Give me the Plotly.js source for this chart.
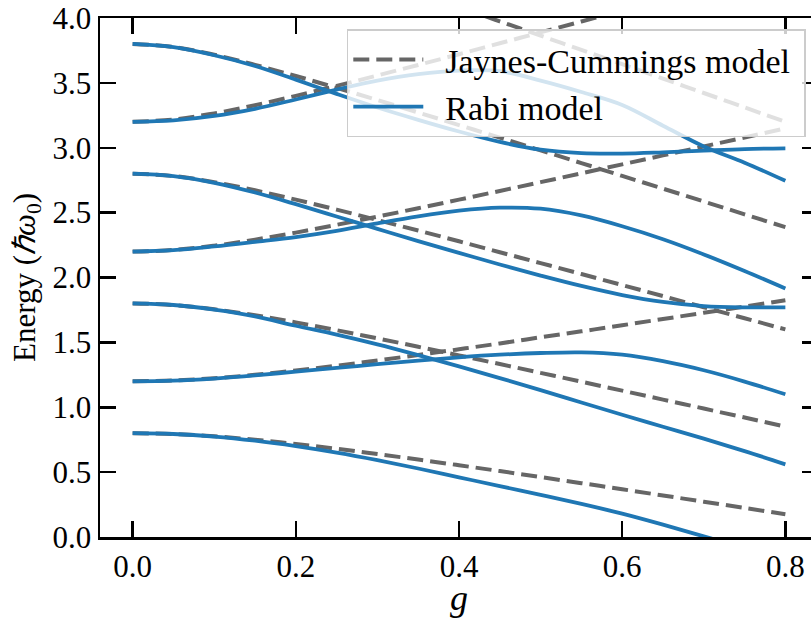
<!DOCTYPE html>
<html><head><meta charset="utf-8">
<script src="https://cdn.plot.ly/plotly-3.0.1.min.js"></script>
<style>html,body{margin:0;padding:0;overflow:hidden;background:#fff}</style>
</head><body><div id="chart" style="width:830px;height:619px"></div>
<script>
// coupling strength g
const g = [0, 0.05, 0.1, 0.15, 0.2, 0.25, 0.3, 0.35, 0.4, 0.45, 0.5, 0.55, 0.6, 0.65, 0.7, 0.75, 0.8];

// Jaynes-Cummings model levels
const jc08 = [0.800, 0.794, 0.776, 0.750, 0.717, 0.680, 0.639, 0.597, 0.553, 0.508, 0.462, 0.415, 0.368, 0.320, 0.272, 0.224, 0.175];
const jc12 = [1.200, 1.206, 1.224, 1.250, 1.283, 1.320, 1.361, 1.403, 1.447, 1.492, 1.539, 1.585, 1.632, 1.680, 1.728, 1.776, 1.825];
const jc18 = [1.800, 1.788, 1.755, 1.709, 1.654, 1.594, 1.531, 1.466, 1.400, 1.333, 1.265, 1.197, 1.128, 1.059, 0.990, 0.921, 0.851];
const jc22 = [2.200, 2.212, 2.245, 2.292, 2.346, 2.406, 2.469, 2.534, 2.600, 2.667, 2.735, 2.803, 2.872, 2.941, 3.010, 3.079, 3.149];
const jc28 = [2.800, 2.782, 2.735, 2.672, 2.600, 2.523, 2.443, 2.362, 2.279, 2.195, 2.111, 2.027, 1.942, 1.857, 1.771, 1.686, 1.600];
const jc32 = [3.200, 3.218, 3.265, 3.328, 3.400, 3.477, 3.557, 3.638, 3.721, 3.805, 3.889, 3.973, 4.058, 4.144, 4.229, 4.314, 4.400];
const jc38 = [3.800, 3.776, 3.717, 3.639, 3.553, 3.462, 3.368, 3.272, 3.175, 3.078, 2.980, 2.882, 2.783, 2.685, 2.586, 2.487, 2.388];
const jc48 = [4.800, 4.771, 4.700, 4.610, 4.510, 4.406, 4.300, 4.192, 4.084, 3.974, 3.864, 3.754, 3.644, 3.533, 3.422, 3.311, 3.200];

// Rabi model levels
const rb08 = [0.800, 0.794, 0.774, 0.742, 0.700, 0.650, 0.592, 0.528, 0.460, 0.392, 0.325, 0.255, 0.180, 0.095, 0.005, -0.085, -0.175];
const rb12 = [1.200, 1.205, 1.221, 1.245, 1.275, 1.303, 1.332, 1.360, 1.385, 1.405, 1.418, 1.423, 1.405, 1.355, 1.285, 1.198, 1.100];
const rb18 = [1.800, 1.788, 1.752, 1.700, 1.628, 1.560, 1.485, 1.402, 1.315, 1.225, 1.132, 1.037, 0.942, 0.850, 0.758, 0.662, 0.560];
const rb22 = [2.200, 2.211, 2.240, 2.275, 2.312, 2.360, 2.418, 2.472, 2.515, 2.538, 2.530, 2.478, 2.395, 2.295, 2.178, 2.050, 1.915];
const rb28 = [2.800, 2.781, 2.730, 2.655, 2.565, 2.470, 2.375, 2.280, 2.190, 2.100, 2.015, 1.935, 1.865, 1.812, 1.780, 1.770, 1.770];
const rb32 = [3.200, 3.211, 3.245, 3.300, 3.372, 3.448, 3.518, 3.568, 3.595, 3.590, 3.518, 3.430, 3.330, 3.170, 3.010, 2.885, 2.745];
const rb38 = [3.800, 3.775, 3.713, 3.630, 3.525, 3.415, 3.310, 3.215, 3.125, 3.045, 2.985, 2.958, 2.955, 2.965, 2.978, 2.990, 2.995];

const xTicks = [0, 0.2, 0.4, 0.6, 0.8];
const yTicks = [0, 0.5, 1, 1.5, 2, 2.5, 3, 3.5, 4];
const seriesNames = ['Jaynes-Cummings model', 'Rabi model'];
const xLabel = '<i>g</i>';
const yLabel = 'Energy (<i>ℏω</i><sub>0</sub>)';

const jcCurves = [jc08, jc12, jc18, jc22, jc28, jc32, jc38, jc48];
const rbCurves = [rb08, rb12, rb18, rb22, rb28, rb32, rb38];

const FONT = 'Liberation Serif, Times New Roman, serif';
const PAD = '\u00a0\u00a0';
const traces = [];
jcCurves.forEach((y, i) => traces.push({
  x: g, y: y, type: 'scatter', mode: 'lines', name: PAD + seriesNames[0] + '\u00a0',
  legendgroup: 'jc', showlegend: i === 0, hoverinfo: 'skip',
  line: {color: '#666666', width: 4, dash: '16px,7px', shape: 'spline', smoothing: 1}
}));
rbCurves.forEach((y, i) => traces.push({
  x: g, y: y, type: 'scatter', mode: 'lines', name: PAD + seriesNames[1],
  legendgroup: 'rb', showlegend: i === 0, hoverinfo: 'skip',
  line: {color: '#1f77b4', width: 3.8, shape: 'spline', smoothing: 1}
}));

const axisCommon = {
  showline: true, linecolor: '#000', linewidth: 2.5, mirror: 'ticks',
  ticks: 'inside', ticklen: 16, tickwidth: 2.5, tickcolor: '#000',
  showgrid: false, zeroline: false, tickformat: '.1f',
  tickfont: {family: FONT, size: 31, color: '#000'}
};

const layout = {
  width: 830, height: 619,
  margin: {l: 100, r: 12, t: 18, b: 82},
  paper_bgcolor: '#fff', plot_bgcolor: '#fff',
  font: {family: FONT, color: '#000'},
  xaxis: Object.assign({}, axisCommon, {
    range: [-0.04, 0.84], tickvals: xTicks
  }),
  yaxis: Object.assign({}, axisCommon, {
    range: [0, 4], tickvals: yTicks,
    title: {text: yLabel, font: {family: FONT, size: 31, color: '#000'}, standoff: 8}
  }),
  annotations: [{
    text: xLabel, xref: 'paper', yref: 'paper', x: 0.5, y: -0.117,
    xanchor: 'center', yanchor: 'middle', showarrow: false,
    font: {family: FONT, size: 36, color: '#000'}
  }],
  legend: {
    x: 0.983, y: 0.978, xanchor: 'right', yanchor: 'top',
    bgcolor: 'rgba(255,255,255,0.8)', bordercolor: '#cccccc', borderwidth: 1.5,
    font: {family: FONT, size: 34, color: '#000'},
    itemwidth: 70, tracegroupgap: 0
  },
  showlegend: true
};

Plotly.newPlot('chart', traces, layout, {staticPlot: true, displayModeBar: false});
</script>
</body></html>
